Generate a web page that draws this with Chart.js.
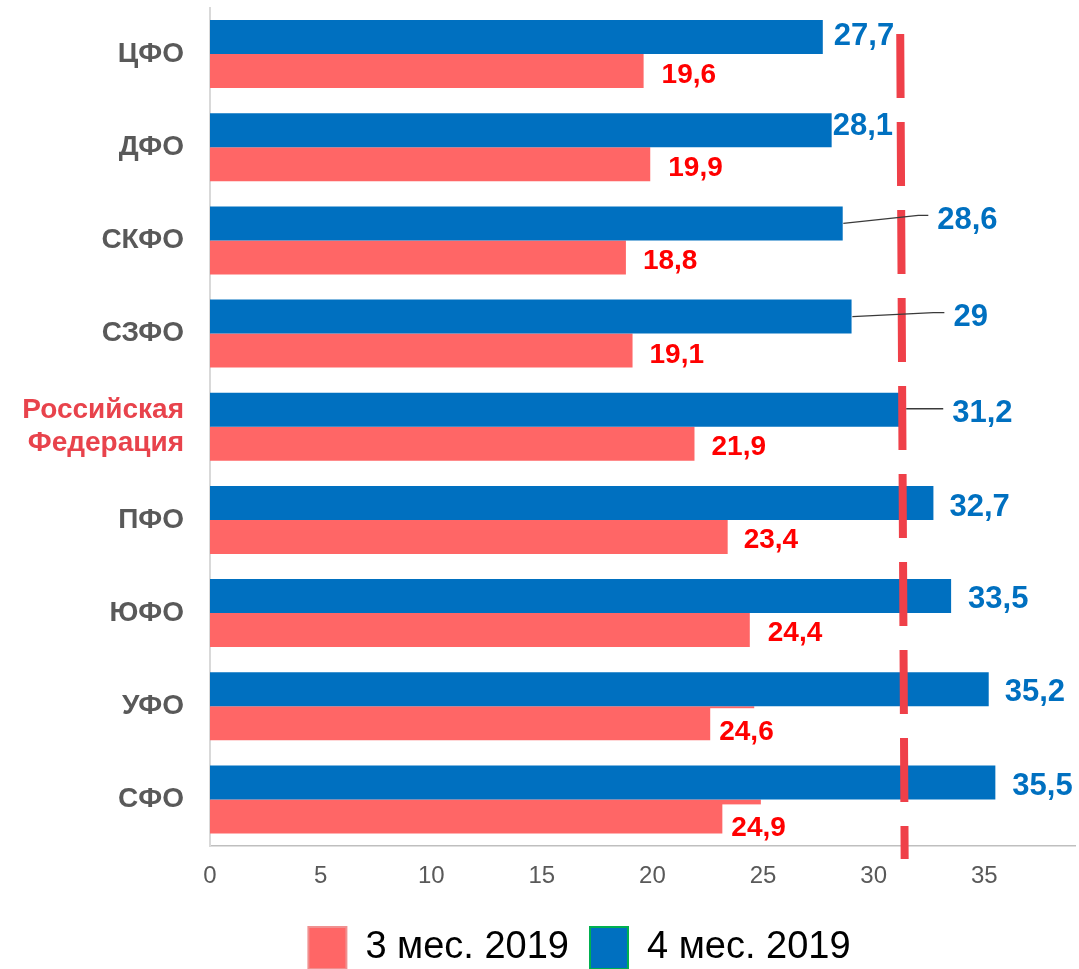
<!DOCTYPE html>
<html><head><meta charset="utf-8">
<script src="https://cdn.jsdelivr.net/npm/chart.js@4.4.1/dist/chart.umd.min.js"></script>
<style>html,body{margin:0;padding:0;background:#fff;overflow:hidden}#wrap{position:relative;width:1079px;height:969px}</style>
</head><body><div id="wrap"><canvas id="c"></canvas></div>
<script>
// ---- data ----
const categories = ['ЦФО', 'ДФО', 'СКФО', 'СЗФО', ['Российская', 'Федерация'], 'ПФО', 'ЮФО', 'УФО', 'СФО'];
const series3m = [19.6, 19.9, 18.8, 19.1, 21.9, 23.4, 24.4, 24.6, 24.9];
const series4m = [27.7, 28.1, 28.6, 29, 31.2, 32.7, 33.5, 35.2, 35.5];
const seriesNames = ['3 мес. 2019', '4 мес. 2019'];
const xTickValues = [0, 5, 10, 15, 20, 25, 30, 35];
const referenceValue = 31.2; // Российская Федерация, 4 мес.

// ---- label layout (offsets from bar end / bar centre) ----
const blueLabelLayout = [
  {dx: 11, dy: -3.5}, {dx: 1, dy: -6.5},
  {dx: 94.5, dy: -6, leader: [[0.6, 0], [75.6, -8], [85.6, -8]]},
  {dx: 102, dy: -1.5, leader: [[0.8, 0], [81.8, -4], [92.8, -4]]},
  {dx: 52, dy: 1.5, leader: [[6, -1], [43, -1]]},
  {dx: 16, dy: 1.5}, {dx: 17, dy: 0.5}, {dx: 16, dy: 1}, {dx: 17, dy: 1.5}
];
const redLabelLayout = [
  {dx: 18, dy: 1.5}, {dx: 18, dy: 2}, {dx: 17, dy: 1.5}, {dx: 17, dy: 2},
  {dx: 17, dy: 1.5}, {dx: 16, dy: 1}, {dx: 18, dy: 1},
  {dx: -35, dy: 7, box: true}, {dx: -29.5, dy: 10, box: true}
];
const legendShift = 42;

const FAM = "'Liberation Sans', Arial, sans-serif";
const fmt = v => String(v).replace('.', ',');

const legendShiftPlugin = {
  id: 'legendShift',
  afterLayout(chart) {
    if (chart.legend) { chart.legend.left += legendShift; chart.legend.right += legendShift; }
  }
};

const labelPlugin = {
  id: 'labels',
  afterDatasetsDraw(chart) {
    const ctx = chart.ctx;
    const xs = chart.scales.x, ys = chart.scales.y;
    // dashed reference line
    const yTop = ys.getPixelForValue(0) - 20;
    const yBot = chart.chartArea.bottom + 13;
    ctx.save();
    ctx.strokeStyle = '#ef4049';
    ctx.lineWidth = 8;
    ctx.setLineDash([64, 24]);
    ctx.beginPath();
    ctx.moveTo(xs.getPixelForValue(referenceValue), yTop);
    ctx.lineTo(xs.getPixelForValue(referenceValue + 0.2), yBot);
    ctx.stroke();
    ctx.restore();

    const drawSet = (dsIndex, layout, color, size) => {
      const meta = chart.getDatasetMeta(dsIndex);
      const data = chart.data.datasets[dsIndex].data;
      meta.data.forEach((bar, i) => {
        const L = layout[i];
        const xe = bar.x, yc = bar.y;
        if (L.leader) {
          ctx.save();
          ctx.strokeStyle = '#3a3a3a';
          ctx.lineWidth = 1.3;
          ctx.beginPath();
          L.leader.forEach((p, k) => {
            if (k === 0) ctx.moveTo(xe + p[0], yc + p[1]); else ctx.lineTo(xe + p[0], yc + p[1]);
          });
          ctx.stroke();
          ctx.restore();
        }
        ctx.save();
        ctx.font = 'bold ' + size + 'px ' + FAM;
        const txt = fmt(data[i]);
        const tx = xe + L.dx;
        const base = yc + L.dy + 0.358 * size;
        if (L.box) {
          const w = ctx.measureText(txt).width;
          ctx.fillStyle = '#ffffff';
          ctx.fillRect(tx - 9, base - 0.716 * size - 12, w + 18, 0.716 * size + 16);
        }
        ctx.fillStyle = color;
        ctx.textAlign = 'left';
        ctx.textBaseline = 'alphabetic';
        ctx.fillText(txt, tx, base);
        ctx.restore();
      });
    };
    drawSet(0, blueLabelLayout, '#0070c0', 31);
    drawSet(1, redLabelLayout, '#ff0000', 28);
  }
};

new Chart(document.getElementById('c'), {
  type: 'bar',
  data: {
    labels: categories,
    datasets: [
      {label: seriesNames[1], data: series4m, backgroundColor: '#0070c0', borderWidth: 0,
       categoryPercentage: 0.73, barPercentage: 1.0},
      {label: seriesNames[0], data: series3m, backgroundColor: '#ff6666', borderWidth: 0,
       categoryPercentage: 0.73, barPercentage: 1.0}
    ]
  },
  options: {
    indexAxis: 'y',
    responsive: true,
    maintainAspectRatio: false,
    animation: false,
    layout: {padding: {top: 7.5, right: 4, left: 0, bottom: -10}},
    plugins: {
      tooltip: {enabled: false},
      legend: {
        position: 'bottom',
        reverse: true,
        labels: {
          font: {size: 38, family: FAM},
          color: '#000000',
          boxWidth: 38,
          boxHeight: 42,
          padding: 21,
          generateLabels(chart) {
            const borders = ['#00b050', '#f09090'];
            return chart.data.datasets.map((ds, i) => ({
              text: ds.label,
              fillStyle: ds.backgroundColor,
              strokeStyle: borders[i],
              lineWidth: 2,
              datasetIndex: i,
              hidden: false,
              fontColor: '#000000'
            }));
          }
        }
      }
    },
    scales: {
      x: {
        min: 0, max: 39.1,
        grid: {display: false, drawTicks: false},
        border: {display: true, color: '#bfbfbf', width: 1.5},
        afterBuildTicks: s => { s.ticks = xTickValues.map(v => ({value: v})); },
        ticks: {padding: 18, autoSkip: false, maxRotation: 0, color: '#595959',
                font: {size: 24, family: FAM, lineHeight: 1.0}}
      },
      y: {
        grid: {display: false, drawTicks: false},
        border: {display: true, color: '#d9d9d9', width: 2},
        afterFit: s => { s.width = 210; s.paddingTop = 0; s.paddingBottom = 0; },
        ticks: {padding: 26, autoSkip: false,
                color: c => c.index === 4 ? '#e8434c' : '#595959',
                font: {size: 28, weight: 'bold', family: FAM, lineHeight: 1.2}}
      }
    }
  },
  plugins: [labelPlugin, legendShiftPlugin]
});
</script>
</body></html>
